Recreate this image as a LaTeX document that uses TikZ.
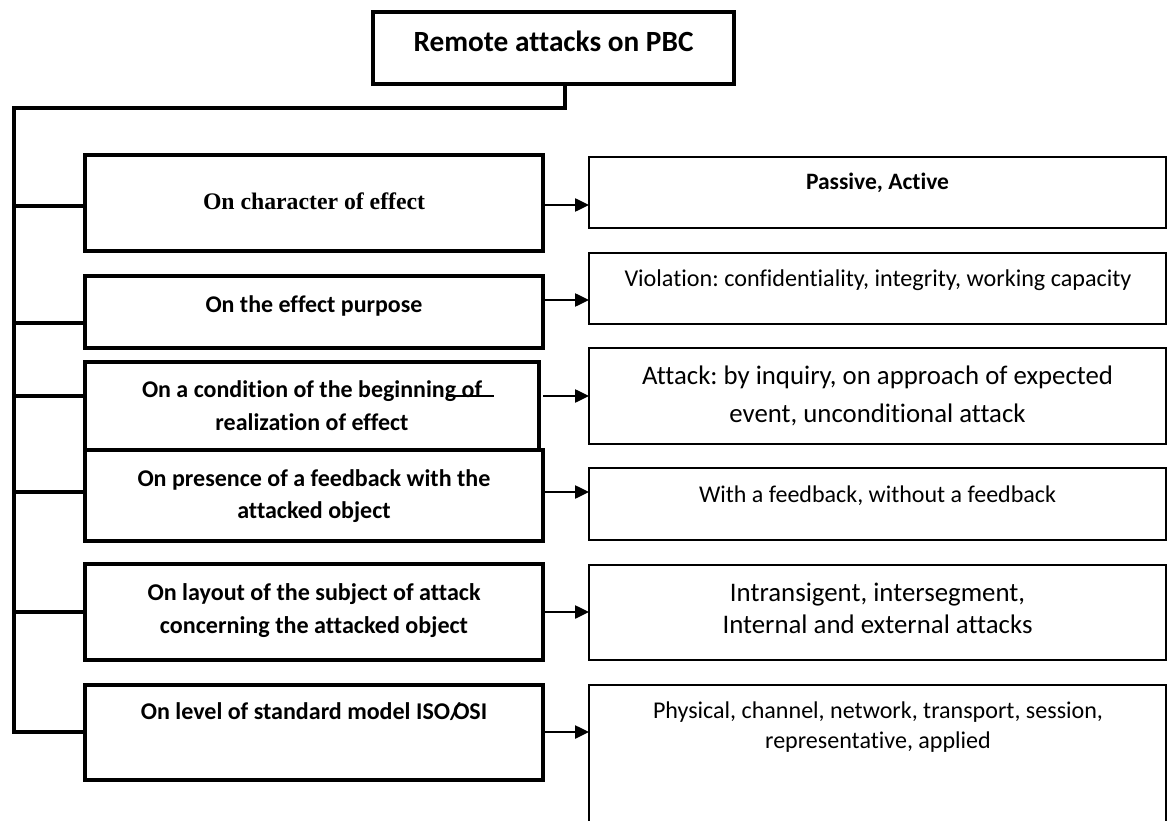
\documentclass[tikz,border=0pt]{standalone}
\usepackage{fontspec}
\setmainfont{Carlito}[Ligatures=NoCommon]
\newfontfamily\timesfont{Liberation Serif}
\usetikzlibrary{arrows.meta}
\frenchspacing

% font size that makes a sample line exactly a given width
\newcommand\fitsize[4]{%
  \setbox0=\hbox{#2\fontsize{10pt}{12pt}\selectfont #4}%
  \edef\fitwd{\the\wd0}%
  \pgfmathsetmacro#1{10*#3/\fitwd}}
\newcommand\fsz[1]{\fontsize{#1pt}{#1pt}\selectfont}

\tikzset{
  tbox/.style={draw, line width=4pt, inner sep=0pt, outer sep=0pt},
  lbox/.style={draw, line width=4pt, minimum width=458pt, inner sep=0pt, outer sep=0pt},
  rbox/.style={draw, line width=2.7pt, minimum width=577pt, inner sep=0pt, outer sep=0pt},
  conn/.style={line width=4pt},
  arr/.style={line width=2.5pt, -{Triangle[length=14pt,width=13pt]}},
  lbl/.style={anchor=base, inner sep=0pt},
}

\begin{document}%
\fitsize\fsT{\bfseries}{280}{Remote attacks on PBC}%
\fitsize\fsA{\timesfont\bfseries}{222}{On character of effect}%
\fitsize\fsRa{\bfseries}{143}{Passive, Active}%
\fitsize\fsB{\bfseries}{217}{On the effect purpose}%
\fitsize\fsRb{}{507}{Violation: confidentiality, integrity, working capacity}%
\fitsize\fsC{\bfseries}{340}{On a condition of the beginning of}%
\fitsize\fsRc{}{471}{Attack: by inquiry, on approach of expected}%
\fitsize\fsD{\bfseries}{353}{On presence of a feedback with the}%
\fitsize\fsRd{}{357}{With a feedback, without a feedback}%
\fitsize\fsE{\bfseries}{333}{On layout of the subject of attack}%
\fitsize\fsRe{}{310}{Internal and external attacks}%
\fitsize\fsRf{}{450}{Physical, channel, network, transport, session,}%
\begin{tikzpicture}[x=1pt, y=-1pt]
\useasboundingbox (0,0) rectangle (1173,821);
\clip (0,0) rectangle (1173,821);

% root
\node[tbox, minimum width=361pt, minimum height=72pt] (top) at (553.5,48) {};
\node[lbl, font=\bfseries\fsz{\fsT}] (ttop) at (553.5,52) {Remote attacks on PBC};

% classification criteria (left column)
\node[lbox, minimum height=96pt] (b1) at (314,203) {};
\node[lbox, minimum height=72pt] (b2) at (314,312) {};
\node[lbox, minimum width=454pt, minimum height=88pt] (b3) at (312,406) {};
\node[lbox, minimum height=91pt] (b4) at (314,495.5) {};
\node[lbox, minimum height=96pt] (b5) at (314,612) {};
\node[lbox, minimum height=95pt] (b6) at (314,732.5) {};

\node[lbl, font=\timesfont\bfseries\fsz{\fsA}] (tb1) at (314,210) {On character of effect};
\node[lbl, font=\bfseries\fsz{\fsB}] (tb2) at (314,312) {On the effect purpose};
\node[lbl, font=\bfseries\fsz{\fsC}] (tb3a) at (312,397) {On a condition of the beginning of};
\node[lbl, font=\bfseries\fsz{\fsC}] (tb3b) at (312,430) {realization of effect};
\node[lbl, font=\bfseries\fsz{\fsD}] (tb4a) at (314,486) {On presence of a feedback with the};
\node[lbl, font=\bfseries\fsz{\fsD}] (tb4b) at (314,518) {attacked object};
\node[lbl, font=\bfseries\fsz{\fsE}] (tb5a) at (314,600) {On layout of the subject of attack};
\node[lbl, font=\bfseries\fsz{\fsE}] (tb5b) at (314,633) {concerning the attacked object};
\node[lbl, font=\bfseries\fsz{\fsD}] (tb6) at (314,719) {On level of standard model ISO/\kern-0.3em OSI};
\draw[line width=2pt] (446,396) -- (494,396);

% attack kinds (right column)
\node[rbox, minimum height=71pt] (r1) at (877.5,192.5) {};
\node[rbox, minimum height=71pt] (r2) at (877.5,288.5) {};
\node[rbox, minimum height=96pt] (r3) at (877.5,396) {};
\node[rbox, minimum height=72pt] (r4) at (877.5,504) {};
\node[rbox, minimum height=95pt] (r5) at (877.5,612.5) {};
\node[rbox, minimum height=175pt] (r6) at (877.5,772.5) {};

\node[lbl, font=\bfseries\fsz{\fsRa}] (tr1) at (877.5,190) {Passive, Active};
\node[lbl, font=\fsz{\fsRb}] (tr2) at (878,287) {Violation: confidentiality, integrity, working capacity};
\node[lbl, font=\fsz{\fsRc}] (tr3a) at (877.5,384) {Attack: by inquiry, on approach of expected};
\node[lbl, font=\fsz{\fsRc}] (tr3b) at (877.5,422) {event, unconditional attack};
\node[lbl, font=\fsz{\fsRd}] (tr4) at (877.5,502) {With a feedback, without a feedback};
\node[lbl, font=\fsz{\fsRe}] (tr5a) at (877.5,601) {Intransigent, intersegment,};
\node[lbl, font=\fsz{\fsRe}] (tr5b) at (877.5,633) {Internal and external attacks};
\node[lbl, font=\fsz{\fsRf}] (tr6a) at (878,718) {Physical, channel, network, transport, session,};
\node[lbl, font=\fsz{\fsRf}] (tr6b) at (878,748) {representative, applied};

% trunk from the root down the left side
\coordinate (tk) at (14,108);
\coordinate (j1) at (14,206);
\coordinate (j2) at (14,323);
\coordinate (j3) at (14,396);
\coordinate (j4) at (14,492);
\coordinate (j5) at (14,612);
\coordinate (j6) at (14,732);
\draw[conn] ([xshift=11.5pt]top.south) |- (tk) -- (j6) -- (j6 -| b6.west);
\draw[conn] (j1) -- (j1 -| b1.west);
\draw[conn] (j2) -- (j2 -| b2.west);
\draw[conn] (j3) -- (j3 -| b3.west);
\draw[conn] (j4) -- (j4 -| b4.west);
\draw[conn] (j5) -- (j5 -| b5.west);

% arrows to the attack kinds
\coordinate (a1) at (543,205);
\coordinate (a2) at (543,300);
\coordinate (a3) at (543,396);
\coordinate (a4) at (543,492);
\coordinate (a5) at (543,612);
\coordinate (a6) at (543,732);
\draw[arr] (a1) -- (a1 -| r1.west);
\draw[arr] (a2) -- (a2 -| r2.west);
\draw[arr] (a3) -- (a3 -| r3.west);
\draw[arr] (a4) -- (a4 -| r4.west);
\draw[arr] (a5) -- (a5 -| r5.west);
\draw[arr] (a6) -- (a6 -| r6.west);
\end{tikzpicture}
\end{document}
